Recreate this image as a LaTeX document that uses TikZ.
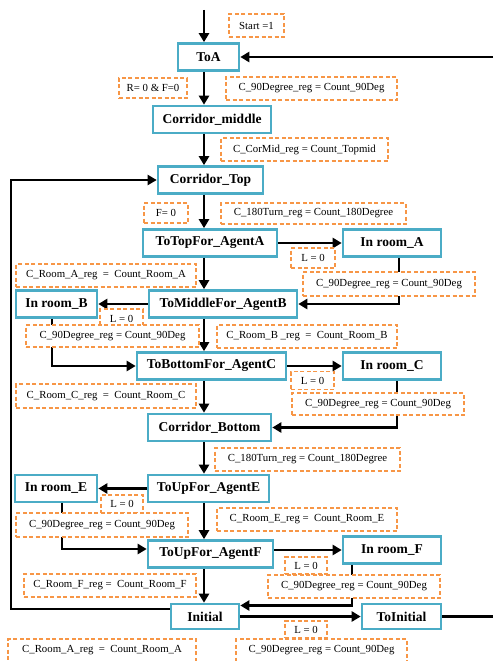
\documentclass[tikz,border=0pt]{standalone}
\usepackage{fontspec}
\setmainfont{Liberation Serif}
\usetikzlibrary{arrows.meta,positioning}

\definecolor{boxblue}{HTML}{4BACC6}
\definecolor{condorange}{HTML}{F79646}

\tikzset{
  state/.style={draw=boxblue, line width=2.6pt, fill=white, inner sep=2pt,
    minimum height=27pt, font=\fontsize{13.5}{15}\selectfont\bfseries},
  cond/.style={draw=condorange, line width=1.3pt, dash pattern=on 4pt off 2.5pt,
    fill=white, inner sep=1pt, font=\fontsize{10.8}{12}\selectfont},
  flow/.style={line width=2.8pt, -{Triangle[length=9pt,width=10pt]}},
  wire/.style={line width=2.8pt}
}

\begin{document}
\begin{tikzpicture}[x=1pt,y=-1pt]
      \useasboundingbox (0,0) rectangle (493,661);

      % States
      \node[state, minimum width=61pt] (toa) at (208.5,57) {ToA};
      \node[state, minimum width=118pt] (cmid) at (212,119.5) {Corridor\_middle};
      \node[state, minimum width=105pt] (ctop) at (210.5,180) {Corridor\_Top};
      \node[state, minimum width=134pt] (totopa) at (210,243) {ToTopFor\_AgentA};
      \node[state, minimum width=98pt] (rooma) at (392,243) {In room\_A};
      \node[state, minimum width=148pt] (tomidb) at (223,304) {ToMiddleFor\_AgentB};
      \node[state, minimum width=81pt] (roomb) at (56.5,304) {In room\_B};
      \node[state, minimum width=149pt] (tobotc) at (211.5,366) {ToBottomFor\_AgentC};
      \node[state, minimum width=98pt] (roomc) at (392,366) {In room\_C};
      \node[state, minimum width=123pt] (cbot) at (209.5,427.5) {Corridor\_Bottom};
      \node[state, minimum width=121pt] (toupe) at (208.5,488.5) {ToUpFor\_AgentE};
      \node[state, minimum width=82pt] (roome) at (56,488.5) {In room\_E};
      \node[state, minimum width=125pt] (toupf) at (210.5,554) {ToUpFor\_AgentF};
      \node[state, minimum width=98pt] (roomf) at (392,550) {In room\_F};
      \node[state, minimum width=68pt, minimum height=25pt] (init) at (205,616.5) {Initial};
      \node[state, minimum width=79pt, minimum height=25pt] (toinit) at (401.5,616.5) {ToInitial};

      % Free ends
      \coordinate (spine) at (204,0);
      \coordinate (start) at (204,10);
      \coordinate (backin) at (493,57);
      \coordinate (backout) at (493,616.5);
      \coordinate (rail) at (11,0);

      % Entry and return into ToA
      \draw[flow] (start) -- (start |- toa.north);
      \draw[flow] (backin) -- (toa.east);

      % Main column
      \draw[flow] (toa.south -| spine) -- (cmid.north -| spine);
      \draw[flow] (cmid.south -| spine) -- (ctop.north -| spine);
      \draw[flow] (ctop.south -| spine) -- (totopa.north -| spine);
      \draw[flow] (totopa.south -| spine) -- (tomidb.north -| spine);
      \draw[flow] (tomidb.south -| spine) -- (tobotc.north -| spine);
      \draw[flow] (tobotc.south -| spine) -- (cbot.north -| spine);
      \draw[flow] (cbot.south -| spine) -- (toupe.north -| spine);
      \draw[flow] (toupe.south -| spine) -- (toupf.north -| spine);
      \draw[flow] (toupf.south -| spine) -- (init.north -| spine);

      % Rooms
      \draw[flow] (totopa) -- (rooma);
      \draw[flow] ([xshift=7pt]rooma.south) |- (tomidb.east);
      \draw[flow] (tomidb) -- (roomb);
      \draw[flow] ([xshift=-4.5pt]roomb.south) |- (tobotc.west);
      \draw[flow] (tobotc) -- (roomc);
      \draw[flow] ([xshift=5pt]roomc.south) |- (cbot.east);
      \draw[flow] (toupe) -- (roome);
      \draw[flow] ([xshift=6pt]roome.south) |- ([yshift=5pt]toupf.west);
      \draw[flow] (roomf.west -| toupf.east) -- (roomf.west);
      \draw[flow] ([xshift=-40pt]roomf.south) |- ([yshift=11pt]init.east);

      % Back to start
      \draw[flow] (init) -- (toinit);
      \draw[wire] (toinit.east) -- (backout);
      \draw[flow, line width=2pt] ([yshift=8pt]init.west) -| (rail |- ctop) -- (ctop.west);

      % Guards and counters
      \node[cond, minimum width=55pt, minimum height=23pt] (gstart) at (256.5,25.5) {Start =1};
      \node[cond, minimum width=68pt, minimum height=20pt] (grf) at (153,88) {R= 0 \& F=0};
      \node[cond, minimum width=171pt, minimum height=23pt] (gdega) at (311.5,88.5) {C\_90Degree\_reg = Count\_90Deg};
      \node[cond, minimum width=167pt, minimum height=23pt] (gmid) at (304.5,149.5) {C\_CorMid\_reg = Count\_Topmid};
      \node[cond, minimum width=44pt, minimum height=20pt] (gf) at (166,213) {F= 0};
      \node[cond, minimum width=185pt, minimum height=21pt] (gturna) at (313.5,213.5) {C\_180Turn\_reg = Count\_180Degree};
      \node[cond, minimum width=44pt, minimum height=20pt] (gla) at (313,258) {L = 0};
      \node[cond, minimum width=180pt, minimum height=23pt] (groa) at (106,275.5) {C\_Room\_A\_reg ~=~ Count\_Room\_A};
      \node[cond, minimum width=172pt, minimum height=24pt] (gdegb) at (389,284) {C\_90Degree\_reg = Count\_90Deg};
      \node[cond, minimum width=43pt, minimum height=19pt] (glb) at (121.5,318.5) {L = 0};
      \node[cond, minimum width=173pt, minimum height=22pt] (gdegc) at (112.5,336) {C\_90Degree\_reg = Count\_90Deg};
      \node[cond, minimum width=180pt, minimum height=23pt] (grob) at (307,336.5) {C\_Room\_B \_reg ~=~ Count\_Room\_B};
      \node[cond, minimum width=43pt, minimum height=18pt] (glc) at (312.5,380.5) {L = 0};
      \node[cond, minimum width=180pt, minimum height=24pt] (groc) at (106,396) {C\_Room\_C\_reg ~=~ Count\_Room\_C};
      \node[cond, minimum width=172pt, minimum height=22pt] (gdegd) at (378,404) {C\_90Degree\_reg = Count\_90Deg};
      \node[cond, minimum width=185pt, minimum height=23pt] (gturnb) at (307.5,459.5) {C\_180Turn\_reg = Count\_180Degree};
      \node[cond, minimum width=42pt, minimum height=18pt] (gle) at (122,504) {L = 0};
      \node[cond, minimum width=172pt, minimum height=24pt] (gdege) at (102,525) {C\_90Degree\_reg = Count\_90Deg};
      \node[cond, minimum width=180pt, minimum height=23pt] (groe) at (307,519.5) {C\_Room\_E\_reg =~ Count\_Room\_E};
      \node[cond, minimum width=42pt, minimum height=17pt] (glf) at (306,565.5) {L = 0};
      \node[cond, minimum width=172pt, minimum height=23pt] (grof) at (110,585.5) {C\_Room\_F\_reg =~ Count\_Room\_F};
      \node[cond, minimum width=172pt, minimum height=23pt] (gdegf) at (354,586.5) {C\_90Degree\_reg = Count\_90Deg};
      \node[cond, minimum width=42pt, minimum height=17pt] (gli) at (306,629.5) {L = 0};
      \node[cond, minimum width=188pt, minimum height=23pt] (groi) at (102,650.5) {C\_Room\_A\_reg ~=~ Count\_Room\_A};
      \node[cond, minimum width=171pt, minimum height=23pt] (gdegi) at (321.5,650.5) {C\_90Degree\_reg = Count\_90Deg};
    \end{tikzpicture}
\end{document}
